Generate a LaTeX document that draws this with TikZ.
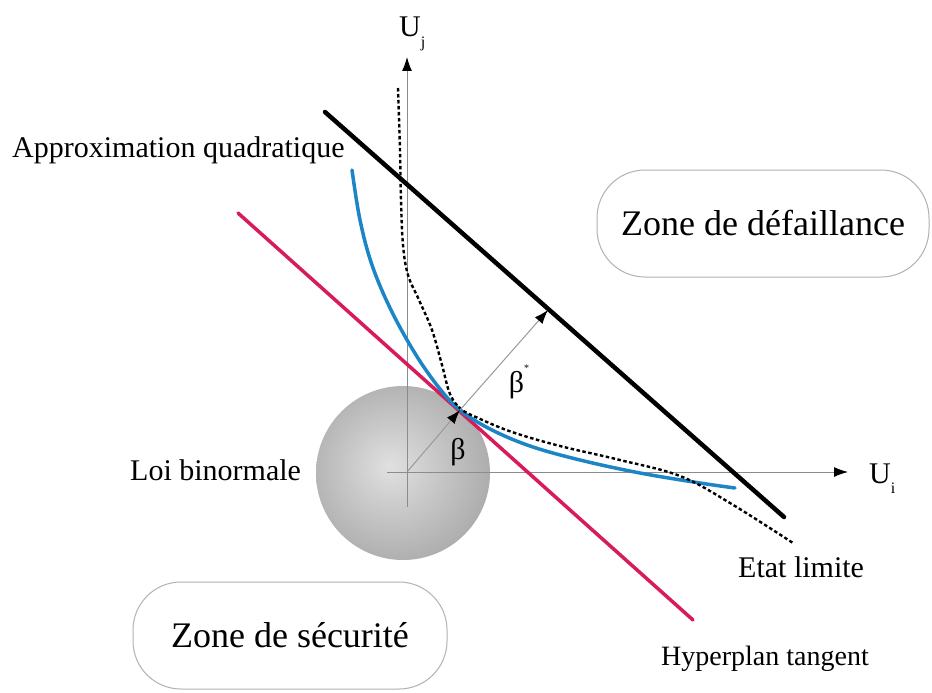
\documentclass[tikz,border=0pt]{standalone}
\usepackage{fontspec}
\setmainfont{Liberation Serif}
\usetikzlibrary{arrows.meta}
\definecolor{hyperred}{HTML}{D81B5A}
\definecolor{quadblue}{HTML}{1B85C6}
\pgfdeclareradialshading{sphereshade}{\pgfpoint{-4bp}{2bp}}{color(0bp)=(white!88!black); color(12bp)=(white!79!black); color(30bp)=(white!66!black); color(48bp)=(white!57!black); color(60bp)=(white!54!black)}
\tikzset{
  lbl/.style={font=\fontsize{30}{30}\selectfont, inner sep=0pt},
  zonebox/.style={draw=black!30, line width=1pt, rounded corners=48pt, font=\fontsize{36}{36}\selectfont, inner sep=0pt},
  axis/.style={draw=black!45, line width=1pt, -{Latex[length=14pt,width=10pt,black]}},
  normal/.style={draw=black!40, line width=1pt, -{Latex[length=14pt,width=10pt,black]}},
  limitline/.style={line width=4.5pt, black, line cap=round},
  tangentline/.style={line width=3.5pt, hyperred, line cap=round},
  quadcurve/.style={line width=3.5pt, quadblue, line cap=round},
  limitcurve/.style={line width=2.4pt, black, dash pattern=on 3.5pt off 2.5pt},
}
\begin{document}
\begin{tikzpicture}[x={(1pt,0)}, y={(0,-1pt)}]
\useasboundingbox (0,0) rectangle (932,693);
\fill[white] (0,0) rectangle (932,693);
% sphere
\coordinate (O) at (407,472);
\shade[shading=sphereshade] (403,473) circle[radius=87];
% axes
\coordinate (xs) at (387,472);
\coordinate (xe) at (848,472);
\coordinate (ys) at (407,507);
\coordinate (ye) at (407,57);
\draw[axis] (xs) -- (xe);
\draw[axis] (ys) -- (ye);
% lines
\coordinate (ha) at (325,112);
\coordinate (hb) at (784,517);
\coordinate (ta) at (238,213);
\coordinate (tb) at (693,620);
\draw[tangentline] (ta) -- (tb);
% quadratic approximation
\draw[quadcurve] plot[smooth, tension=0.6] coordinates {(352,170) (360,220) (372,265) (391,310) (416,355) (440,389) (460,410) (490,429) (530,446) (580,460) (640,473) (700,483) (735,488)};
% limit state
\draw[limitcurve] plot[smooth, tension=0.6] coordinates {(398,88) (400,150) (401,200) (403,245) (408,275) (419,300) (432,330) (442,365) (450,394) (461,409) (478,418) (512,432) (560,446) (620,460) (680,476) (730,503) (793,543)};
\draw[limitline] (ha) -- (hb);
% normal vectors
\coordinate (T) at (460,410);
\coordinate (B) at (548,310);
\draw[normal] (O) -- (T);
\draw[normal] (T) -- (B);
% labels
\node[lbl, anchor=base west] (uj) at (399,37) {U\raisebox{-0.35em}{\fontsize{16}{16}\selectfont j}};
\node[lbl, anchor=base west] (ui) at (869,483) {U\raisebox{-0.35em}{\fontsize{16}{16}\selectfont i}};
\node[lbl, anchor=base west] (approx) at (12,157) {Approximation quadratique};
\node[lbl, anchor=base west] (loi) at (130,480) {Loi binormale};
\node[lbl, anchor=base west] (etat) at (738,577) {Etat limite};
\node[lbl, anchor=base west, font=\fontsize{28}{28}\selectfont] (hyper) at (661,665) {Hyperplan tangent};
\node[lbl] (beta) at (458,452) {β};
\node[lbl] (betastar) at (519,382) {β\raisebox{0.7em}{\fontsize{10}{10}\selectfont *}};
\node[zonebox, minimum width=332pt, minimum height=107pt] (zd) at (763,223.5) {Zone de défaillance};
\node[zonebox, minimum width=314pt, minimum height=107pt] (zs) at (290,635.5) {Zone de sécurité};
\end{tikzpicture}
\end{document}
